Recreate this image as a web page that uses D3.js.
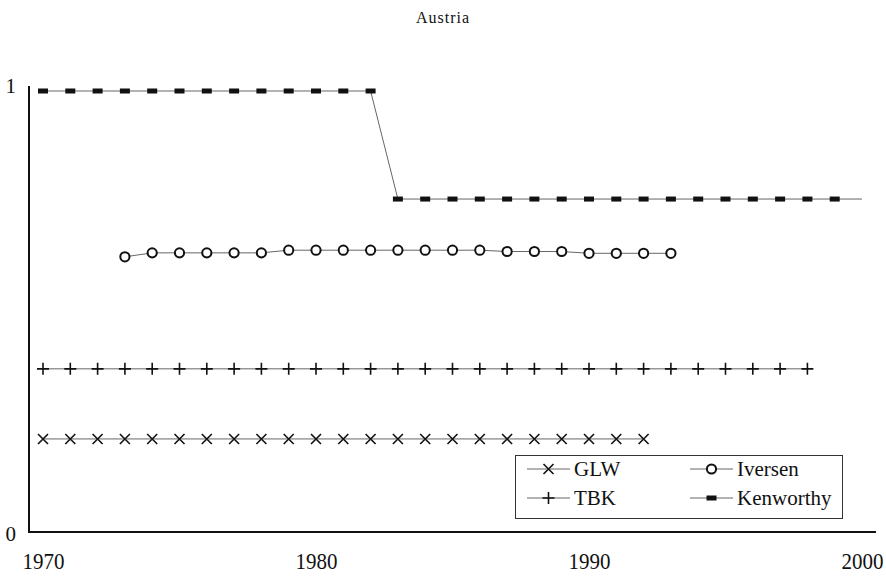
<!DOCTYPE html>
<html>
<head>
<meta charset="utf-8">
<script src="https://cdn.jsdelivr.net/npm/d3@7"></script>
<style>
  body { margin: 0; background: #fff; }
  text { font-family: "Liberation Serif", "Times New Roman", serif; fill: #111; }
</style>
</head>
<body>
<script>
var width = 886;
var height = 576;

// values
var glwYears = d3.range(1970, 1993);
var glwValues = glwYears.map(function() { return 0.211; });

var tbkYears = d3.range(1970, 1999);
var tbkValues = tbkYears.map(function() { return 0.37; });

var iversenYears = d3.range(1973, 1994);
var iversenValues = [0.624, 0.633, 0.633, 0.633, 0.633, 0.633,
  0.639, 0.639, 0.639, 0.639, 0.639, 0.639, 0.639, 0.639,
  0.636, 0.636, 0.636, 0.632, 0.632, 0.632, 0.632];

var kenworthyYears = d3.range(1970, 2001);
var kenworthyValues = [1, 1, 1, 1, 1, 1, 1, 1, 1, 1, 1, 1, 1,
  0.755, 0.755, 0.755, 0.755, 0.755, 0.755, 0.755, 0.755, 0.755,
  0.755, 0.755, 0.755, 0.755, 0.755, 0.755, 0.755, 0.755, 0.755];

var xTicks = [1970, 1980, 1990, 2000];
var yTicks = [0, 1];

var x = d3.scaleLinear().domain([1970, 2000]).range([43, 862]);
var y = d3.scaleLinear().domain([0, 1]).range([532, 91]);

var svg = d3.select('body')
  .append('svg')
  .attr('width', width)
  .attr('height', height);

// title
svg.append('text')
  .attr('x', 443)
  .attr('y', 23)
  .attr('text-anchor', 'middle')
  .style('font-size', '16px')
  .style('letter-spacing', '1px')
  .text('Austria');

// axes
svg.append('line')
  .attr('x1', 29).attr('x2', 29)
  .attr('y1', 86).attr('y2', 533)
  .attr('stroke', '#111').attr('stroke-width', 2);

svg.append('line')
  .attr('x1', 28).attr('x2', 876)
  .attr('y1', 532).attr('y2', 532)
  .attr('stroke', '#111').attr('stroke-width', 2);

var yAxis = svg.append('g')
  .attr('transform', 'translate(29,0)')
  .call(d3.axisLeft(y).tickValues(yTicks).tickSize(0).tickPadding(13).tickFormat(d3.format('d')));
yAxis.select('.domain').remove();
yAxis.selectAll('text')
  .style('font-size', '21px')
  .attr('dy', function(d) { return d == 1 ? '0.05em' : '0.4em'; });

var xAxis = svg.append('g')
  .attr('transform', 'translate(0,532)')
  .call(d3.axisBottom(x).tickValues(xTicks).tickSize(0).tickPadding(19).tickFormat(d3.format('d')));
xAxis.select('.domain').remove();
xAxis.selectAll('text')
  .style('font-size', '21px')
  .attr('transform', 'scale(1,1.08)');

// marker drawing helpers
function drawCross(g, cx, cy) {
  g.append('path')
    .attr('d', 'M' + (cx - 5) + ',' + (cy - 5) + 'L' + (cx + 5) + ',' + (cy + 5) +
      'M' + (cx - 5) + ',' + (cy + 5) + 'L' + (cx + 5) + ',' + (cy - 5))
    .attr('stroke', '#111').attr('stroke-width', 1.6).attr('fill', 'none');
}
function drawPlus(g, cx, cy) {
  g.append('path')
    .attr('d', 'M' + (cx - 6) + ',' + cy + 'L' + (cx + 6) + ',' + cy +
      'M' + cx + ',' + (cy - 6) + 'L' + cx + ',' + (cy + 6))
    .attr('stroke', '#111').attr('stroke-width', 1.6).attr('fill', 'none');
}
function drawCircle(g, cx, cy) {
  g.append('circle')
    .attr('cx', cx).attr('cy', cy).attr('r', 4.6)
    .attr('fill', '#fff').attr('stroke', '#111').attr('stroke-width', 2);
}
function drawBar(g, cx, cy) {
  g.append('rect')
    .attr('x', cx - 5).attr('y', cy - 2.5)
    .attr('width', 10).attr('height', 5)
    .attr('fill', '#111');
}

var series = [
  { name: 'GLW', years: glwYears, values: glwValues, marker: drawCross, markLast: true },
  { name: 'TBK', years: tbkYears, values: tbkValues, marker: drawPlus, markLast: true },
  { name: 'Iversen', years: iversenYears, values: iversenValues, marker: drawCircle, markLast: true },
  { name: 'Kenworthy', years: kenworthyYears, values: kenworthyValues, marker: drawBar, markLast: false }
];

var line = d3.line()
  .x(function(d) { return x(d[0]); })
  .y(function(d) { return y(d[1]); });

series.forEach(function(s) {
  var pts = s.years.map(function(yr, i) { return [yr, s.values[i]]; });
  var g = svg.append('g');
  g.append('path')
    .datum(pts)
    .attr('d', line)
    .attr('fill', 'none')
    .attr('stroke', '#666')
    .attr('stroke-width', 1);
  pts.forEach(function(p, i) {
    if (!s.markLast && i == pts.length - 1) return;
    s.marker(g, x(p[0]), y(p[1]));
  });
});

// legend
var legend = svg.append('g');
legend.append('rect')
  .attr('x', 515.5).attr('y', 455.5)
  .attr('width', 327).attr('height', 63)
  .attr('fill', '#fff').attr('stroke', '#333').attr('stroke-width', 1);

var legendPos = [
  { s: series[0], lx: 527, ly: 469 },
  { s: series[2], lx: 690, ly: 469 },
  { s: series[1], lx: 527, ly: 498 },
  { s: series[3], lx: 690, ly: 498 }
];

legendPos.forEach(function(d) {
  legend.append('line')
    .attr('x1', d.lx).attr('x2', d.lx + 43)
    .attr('y1', d.ly).attr('y2', d.ly)
    .attr('stroke', '#666').attr('stroke-width', 1);
  d.s.marker(legend, d.lx + 21.5, d.ly);
  legend.append('text')
    .attr('x', d.lx + 47)
    .attr('y', d.ly + 7)
    .style('font-size', '21px')
    .text(d.s.name);
});
</script>
</body>
</html>
